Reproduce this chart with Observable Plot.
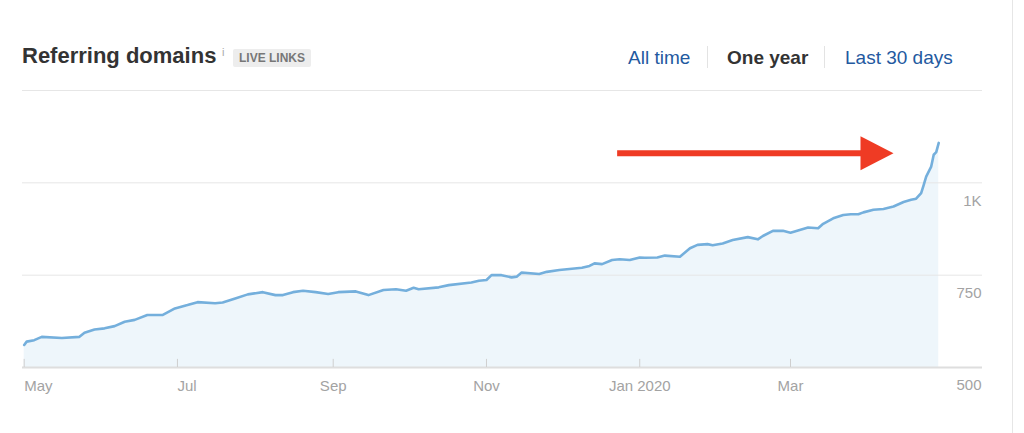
<!DOCTYPE html>
<html><head><meta charset="utf-8">
<script src="https://cdn.jsdelivr.net/npm/d3@7"></script>
<script src="https://cdn.jsdelivr.net/npm/@observablehq/plot@0.6"></script>
<style>
body{margin:0;background:#fff;font-family:"Liberation Sans",Arial,Helvetica,sans-serif;}
#wrap{position:relative;width:1024px;height:433px;overflow:hidden;background:#fff;}
#header{position:relative;height:88px;}
#header span{position:absolute;white-space:nowrap;line-height:1;}
.title{left:22px;top:45px;font-size:22px;font-weight:bold;color:#333;}
.info{left:222px;top:47px;font-size:11px;color:#a8a8a8;}
.badge{left:233px;top:49px;height:18px;line-height:18px !important;padding:0 6px;font-size:12px;font-weight:bold;color:#777;background:#ededed;border-radius:2px;}
.tab{top:48px;font-size:19px;color:#23599f;}
.t1{left:628px;}
.t2{left:727px;font-weight:bold;color:#333 !important;}
.t3{left:845px;}
.sep{top:46px;width:1px;height:22px;background:#e3e3e3;}
.s1{left:707px;}
.s2{left:824px;}
#chart{position:relative;height:345px;}
.border{position:absolute;left:1012px;top:0;width:1px;height:433px;background:#e6e6e6;}
</style></head><body>
<div id="wrap">
<div id="header">
 <span class="title">Referring domains</span>
 <span class="info">i</span>
 <span class="badge">LIVE LINKS</span>
 <span class="tab t1">All time</span>
 <span class="sep s1"></span>
 <span class="tab t2">One year</span>
 <span class="sep s2"></span>
 <span class="tab t3">Last 30 days</span>
</div>
<div id="chart"></div>
<div class="border"></div>
</div>
<script>
const dates = [
"2019-05-01","2019-05-02","2019-05-05","2019-05-08","2019-05-16","2019-05-23","2019-05-25","2019-05-29",
"2019-06-02","2019-06-06","2019-06-10","2019-06-14","2019-06-19","2019-06-25","2019-06-30",
"2019-07-05","2019-07-09","2019-07-16","2019-07-19","2019-07-24","2019-07-29",
"2019-08-04","2019-08-09","2019-08-12","2019-08-16","2019-08-20","2019-08-25","2019-08-30",
"2019-09-03","2019-09-10","2019-09-15","2019-09-21","2019-09-26","2019-09-30",
"2019-10-03","2019-10-05","2019-10-13","2019-10-17","2019-10-26","2019-10-29",
"2019-11-01","2019-11-03","2019-11-07","2019-11-11","2019-11-13","2019-11-15","2019-11-22","2019-11-25","2019-11-30",
"2019-12-09","2019-12-12","2019-12-14","2019-12-17","2019-12-21","2019-12-24","2019-12-28",
"2020-01-01","2020-01-03","2020-01-08","2020-01-11","2020-01-17","2020-01-21","2020-01-24","2020-01-28","2020-01-30",
"2020-02-03","2020-02-07","2020-02-13","2020-02-17","2020-02-19","2020-02-23","2020-02-27",
"2020-03-01","2020-03-04","2020-03-08","2020-03-12","2020-03-14","2020-03-18","2020-03-22","2020-03-25","2020-03-28","2020-03-30",
"2020-04-03","2020-04-07","2020-04-11","2020-04-15","2020-04-18","2020-04-20","2020-04-22","2020-04-23","2020-04-24","2020-04-26","2020-04-27","2020-04-28","2020-04-29"
];
const values = [
561,570,574,583,580,583,594,603,
606,612,624,629,642,642,660,
669,677,674,676,687,698,
704,696,696,704,708,704,699,
704,706,696,710,712,708,
716,712,717,723,730,735,
737,750,750,744,746,757,753,759,764,
770,775,782,780,791,793,791,
798,797,798,803,800,823,832,834,831,
836,845,853,847,856,870,870,
865,871,879,877,889,904,913,915,915,920,
927,929,936,948,954,957,972,994,1017,1044,1076,1083,1108
];
const monthTicks = ["2019-05-01","2019-07-01","2019-09-01","2019-11-01","2020-01-01","2020-03-01"];
const monthLabels = ["May","Jul","Sep","Nov","Jan 2020","Mar"];
const yTicks = [500, 750, 1000];
const yLabels = ["500", "750", "1K"];
const gridValues = [750, 1000, 1250];
const xDomain = ["2019-04-30T08:00Z", "2020-05-16T10:00Z"];
const arrowDates = ["2019-12-23", "2020-04-01"];
const arrowTip = "2020-04-11";
const arrowValue = 1080;

const parse = d3.utcParse("%Y-%m-%d");
const data = dates.map((d, i) => ({date: parse(d), value: values[i]}));
const ticks = monthTicks.map((d, i) => ({date: parse(d), label: monthLabels[i]}));
const shaft = arrowDates.map(d => ({date: parse(d), value: arrowValue}));
const head = [{date: parse(arrowTip), value: arrowValue}];
const arrowHead = {draw(ctx) { ctx.moveTo(0, 0); ctx.lineTo(-33, -17); ctx.lineTo(-33, 17); ctx.closePath(); }};

const chart = Plot.plot({
  width: 1024, height: 345,
  marginTop: 2, marginBottom: 66, marginLeft: 22, marginRight: 42,
  style: {fontFamily: "Liberation Sans, Arial, sans-serif", background: "transparent", overflow: "visible"},
  x: {type: "utc", domain: xDomain.map(d => new Date(d)), axis: null},
  y: {domain: [500, 1250], axis: null},
  marks: [
    Plot.areaY(data, {x: "date", y1: 500, y2: "value", fill: "#eef6fb"}),
    Plot.ruleY(gridValues, {stroke: "#e6e6e6", strokeWidth: 1}),
    Plot.ruleY([500], {stroke: "#dedede", strokeWidth: 2}),
    Plot.ruleX(ticks, {x: "date", y1: 500, y2: 522, stroke: "#cfcfcf"}),
    Plot.line(data, {x: "date", y: "value", stroke: "#74afdc", strokeWidth: 2.6}),
    Plot.text(yTicks, {y: d => d, frameAnchor: "right", text: (d, i) => yLabels[i], textAnchor: "end", dy: 18, dx: -1, fontSize: 15, fill: "#a3a3a3"}),
    Plot.text(ticks.slice(0, 2), {x: "date", y: 500, text: "label", textAnchor: "start", dy: 18.5, fontSize: 15, fill: "#a3a3a3"}),
    Plot.text(ticks.slice(2), {x: "date", y: 500, text: "label", textAnchor: "middle", dy: 18.5, fontSize: 15, fill: "#a3a3a3"}),
    Plot.line(shaft, {x: "date", y: "value", stroke: "#ef3b24", strokeWidth: 6, strokeLinecap: "butt"}),
    Plot.dot(head, {x: "date", y: "value", symbol: arrowHead, r: 5, fill: "#ef3b24"})
  ]
});
document.getElementById("chart").appendChild(chart);
</script>
</body></html>
